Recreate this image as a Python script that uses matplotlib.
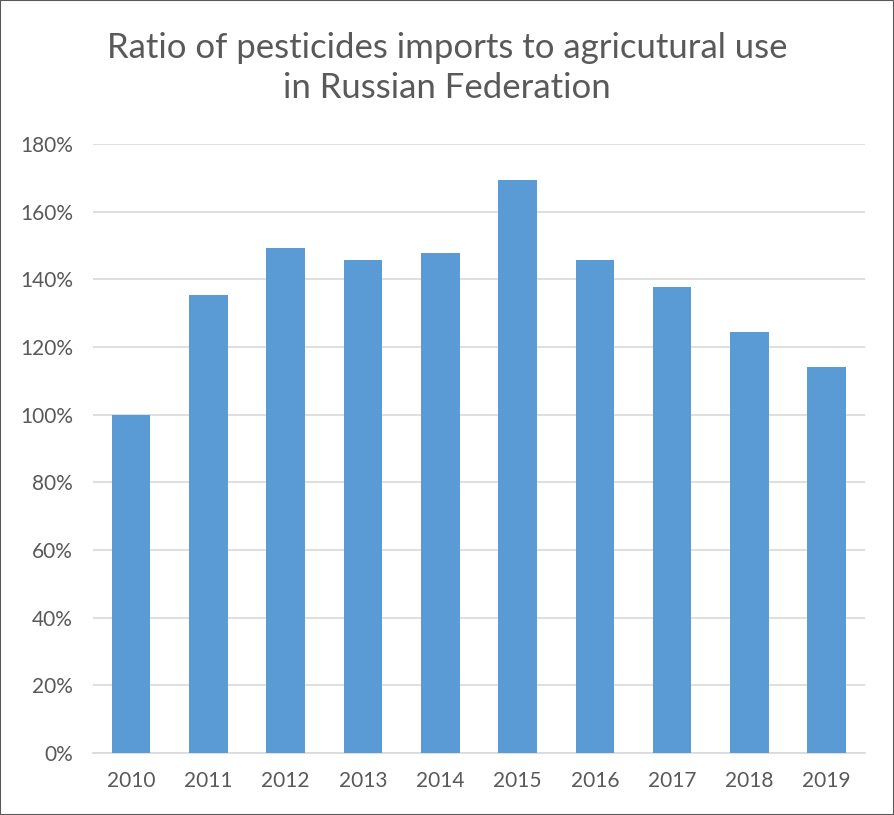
import matplotlib
matplotlib.use("Agg")
import matplotlib.pyplot as plt
from matplotlib.ticker import FuncFormatter, MultipleLocator
from matplotlib.patches import Rectangle

years = ["2010", "2011", "2012", "2013", "2014", "2015", "2016", "2017", "2018", "2019"]
ratio = [1.00, 1.354, 1.493, 1.457, 1.478, 1.693, 1.457, 1.377, 1.244, 1.141]

plt.rcParams['font.family'] = ['Lato', 'DejaVu Sans']

fig = plt.figure(figsize=(8.94, 8.15), dpi=100)
ax = fig.add_axes([0.1035, 0.0761, 0.8645, 0.7472])

x = range(len(years))
ax.bar(x, ratio, width=0.5, color="#5B9BD5", zorder=3)
ax.set_xlim(-0.5, len(years) - 0.5)
ax.set_ylim(0, 1.8)
ax.yaxis.set_major_locator(MultipleLocator(0.2))
ax.yaxis.set_major_formatter(FuncFormatter(lambda v, p: f"{v*100:.0f}%"))
ax.set_xticks(list(x))
ax.set_xticklabels(years)
ax.grid(axis="y", color="#D9D9D9", linewidth=1.2, zorder=0)
for s in ["top", "right", "left"]:
    ax.spines[s].set_visible(False)
ax.spines["bottom"].set_color("#D9D9D9")
ax.spines["bottom"].set_linewidth(1.2)
ax.tick_params(axis="both", length=0, labelsize=15, colors="#595959")
ax.tick_params(axis="x", pad=13)
ax.tick_params(axis="y", pad=14)

fig.text(0.5, 0.917, "Ratio of pesticides imports to agricutural use\nin Russian Federation",
         ha="center", va="center", fontsize=25, color="#595959", linespacing=1.3)

fig.patches.append(Rectangle((0, 0), 1, 1, transform=fig.transFigure, fill=False,
                             edgecolor="#595959", linewidth=1.5))

fig.savefig("out.png", dpi=100)
